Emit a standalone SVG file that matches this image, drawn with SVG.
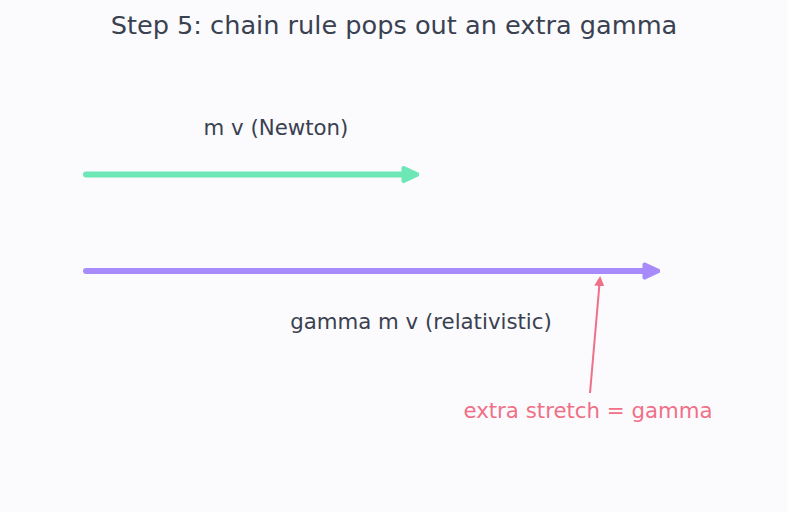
<svg xmlns="http://www.w3.org/2000/svg" width="787" height="512" viewBox="0 0 787 512">
<style>
text{font-family:"DejaVu Sans","Liberation Sans",sans-serif;fill:#3a4150}
.lbl{font-size:21.3px;text-anchor:middle}
.title{font-size:25.6px;text-anchor:middle}
.vec{fill:none;stroke-width:6;stroke-linecap:round}
</style>
<defs>
<marker id="hg" viewBox="0 0 10 10" refX="5" refY="5" markerWidth="3" markerHeight="3" orient="auto" markerUnits="strokeWidth">
<path d="M1.5,1.5 L9,5 L1.5,8.5 Z" fill="#6ee7b7" stroke="#6ee7b7" stroke-width="2.5" stroke-linejoin="round"/>
</marker>
<marker id="hp" viewBox="0 0 10 10" refX="5" refY="5" markerWidth="3" markerHeight="3" orient="auto" markerUnits="strokeWidth">
<path d="M1.5,1.5 L9,5 L1.5,8.5 Z" fill="#a78bfa" stroke="#a78bfa" stroke-width="2.5" stroke-linejoin="round"/>
</marker>
<marker id="hr" viewBox="0 0 10 10" refX="8" refY="5" markerWidth="5" markerHeight="5" orient="auto" markerUnits="strokeWidth">
<path d="M0,0 L10,5 L0,10 Z" fill="#f07088"/>
</marker>
</defs>
<rect width="787" height="512" fill="#fbfbfd"/>
<text class="title" x="394" y="34">Step 5: chain rule pops out an extra gamma</text>
<g id="connectors">
<line class="vec" x1="86" y1="174.5" x2="410" y2="174.5" stroke="#6ee7b7" marker-end="url(#hg)"/>
<line class="vec" x1="86" y1="271" x2="651" y2="271" stroke="#a78bfa" marker-end="url(#hp)"/>
<line x1="590" y1="393" x2="600" y2="278" stroke="#f07088" stroke-width="2" marker-end="url(#hr)"/>
</g>
<g id="newton"><text class="lbl" x="276" y="135">m v (Newton)</text></g>
<g id="relativistic"><text class="lbl" x="421" y="329">gamma m v (relativistic)</text></g>
<g id="stretch"><text class="lbl" x="588" y="418" style="fill:#f07088">extra stretch = gamma</text></g>
</svg>
